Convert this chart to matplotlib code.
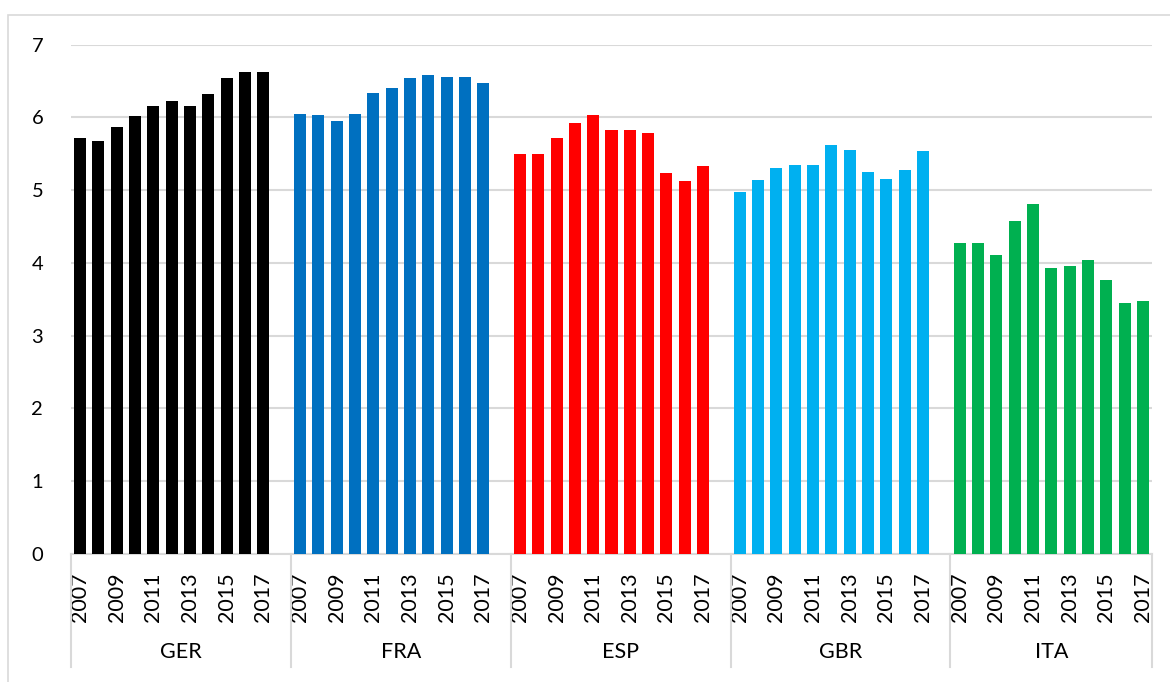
import matplotlib.pyplot as plt
from matplotlib.patches import Rectangle
from matplotlib.lines import Line2D

years = list(range(2007, 2018))
countries = ["GER", "FRA", "ESP", "GBR", "ITA"]
colours = ["#000000", "#0070C0", "#FF0000", "#00B0F0", "#00B050"]

ger = [5.71, 5.67, 5.87, 6.02, 6.15, 6.23, 6.15, 6.32, 6.54, 6.62, 6.62]
fra = [6.04, 6.03, 5.95, 6.04, 6.33, 6.40, 6.54, 6.58, 6.55, 6.55, 6.47]
esp = [5.50, 5.49, 5.72, 5.92, 6.03, 5.82, 5.83, 5.78, 5.23, 5.13, 5.33]
gbr = [4.97, 5.14, 5.30, 5.34, 5.34, 5.62, 5.55, 5.25, 5.15, 5.27, 5.54]
ita = [4.27, 4.27, 4.11, 4.57, 4.81, 3.93, 3.96, 4.04, 3.76, 3.45, 3.48]
series = [ger, fra, esp, gbr, ita]

plt.rcParams["font.family"] = ["Lato", "DejaVu Sans"]

fig = plt.figure(figsize=(11.7, 6.82), dpi=100)
W, H = 1170, 682

# chart frame
fig.patches.append(Rectangle((8 / W, -0.01), 1.02, 1 - 15 / H + 0.01, transform=fig.transFigure,
                             fill=False, edgecolor="#d9d9d9", linewidth=1.2))

ax = fig.add_axes([71 / W, 1 - 554 / H, (1152 - 71) / W, (554 - 44.5) / H])

slot = 12  # 11 years + one empty slot per country
tick_pos, tick_lab = [], []
for g, (vals, col) in enumerate(zip(series, colours)):
    xs = [g * slot + i for i in range(len(years))]
    ax.bar(xs, vals, width=0.655, color=col, zorder=3)
    for i, y in enumerate(years):
        if i % 2 == 0:
            tick_pos.append(xs[i])
            tick_lab.append(str(y))

ax.set_xlim(-0.5, slot * len(countries) - 1.5)
ax.set_ylim(0, 7)
ax.set_yticks(range(0, 8))
ax.grid(axis="y", color="#d9d9d9", linewidth=1.5, zorder=0)
ax.set_xticks(tick_pos)
ax.set_xticklabels(tick_lab, rotation=90, fontsize=15.5)
ax.tick_params(axis="x", length=0, pad=13)
ax.tick_params(axis="y", length=0, pad=20, labelsize=14.5)

for s in ["top", "left", "right"]:
    ax.spines[s].set_visible(False)
ax.spines["bottom"].set_color("#d9d9d9")
ax.spines["bottom"].set_linewidth(1.5)

# group separators and labels
ax_h = 554 - 44.5
sep_bottom = -(667 - 554) / ax_h
lab_y = -(652 - 554) / ax_h
trans = ax.get_xaxis_transform()
bounds = [-0.5 + g * slot for g in range(len(countries))] + [slot * len(countries) - 1.5]
for b in bounds:
    ax.add_line(Line2D([b, b], [0, sep_bottom], transform=trans, color="#d9d9d9",
                       linewidth=1.5, clip_on=False))
for g, name in enumerate(countries):
    mid = (bounds[g] + bounds[g + 1]) / 2
    ax.text(mid, lab_y, name, transform=trans, ha="center", va="center", fontsize=15.5)

fig.savefig("out.png", dpi=100)
